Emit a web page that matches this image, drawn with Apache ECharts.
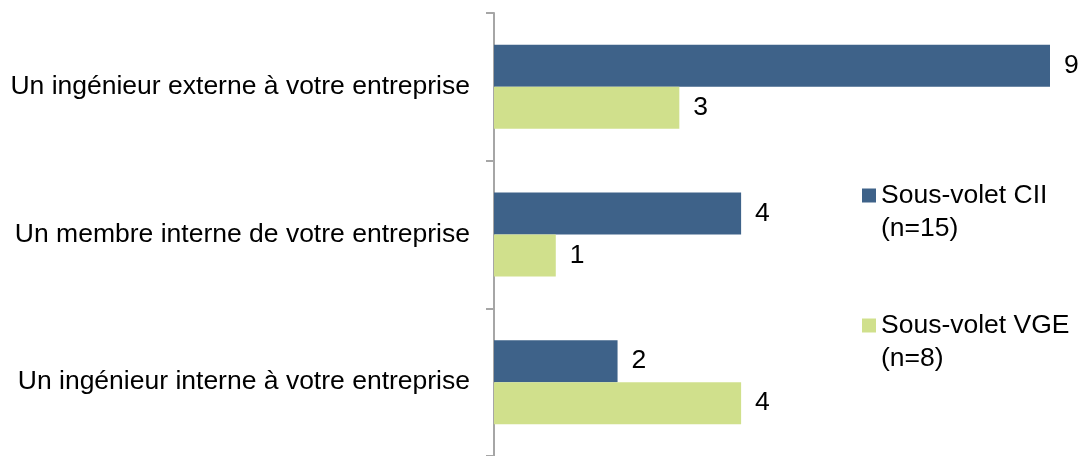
<!DOCTYPE html>
<html>
<head>
<meta charset="utf-8">
<script src="https://cdn.jsdelivr.net/npm/echarts@6/dist/echarts.min.js"></script>
<style>html,body{margin:0;padding:0;background:#fff}#c{width:1081px;height:456px}</style>
</head>
<body>
<div id="c"></div>
<script>
const categories = [
  "Un ingénieur externe à votre entreprise",
  "Un membre interne de votre entreprise",
  "Un ingénieur interne à votre entreprise"
];
const seriesNames = ["Sous-volet CII (n=15)", "Sous-volet VGE (n=8)"];
const cii = [9, 4, 2];
const vge = [3, 1, 4];

const chart = echarts.init(document.getElementById('c'));
const font = "'Liberation Sans', Arial, sans-serif";
chart.setOption({
  animation: false,
  grid: { left: 494, right: 31, top: 13, bottom: -3, containLabel: false },
  xAxis: { type: 'value', min: 0, max: 9, show: false },
  yAxis: {
    type: 'category', data: categories, inverse: true,
    axisLine: { show: true, lineStyle: { color: '#A6A6A6', width: 2 } },
    axisTick: { show: true, length: 8, inside: false, lineStyle: { color: '#A6A6A6', width: 2 } },
    axisLabel: { fontFamily: font, fontSize: 26.5, color: '#000', margin: 24 }
  },
  legend: {
    orient: 'vertical', left: 857, top: 141,
    itemWidth: 14, itemHeight: 14, itemGap: 31,
    icon: 'rect',
    formatter: function (n) { return '\n' + n.replace(' (', '\n('); },
    textStyle: { fontFamily: font, fontSize: 26.5, color: '#000', lineHeight: 33 },
    data: seriesNames
  },
  series: [
    {
      name: seriesNames[0], type: 'bar', data: cii, barWidth: 42, barGap: '0%',
      itemStyle: { color: '#3E6289' },
      label: { show: true, position: 'right', distance: 14, fontFamily: font, fontSize: 26.5, color: '#000' }
    },
    {
      name: seriesNames[1], type: 'bar', data: vge, barWidth: 42, barGap: '0%',
      itemStyle: { color: '#D0E08C' },
      label: { show: true, position: 'right', distance: 14, fontFamily: font, fontSize: 26.5, color: '#000' }
    }
  ]
});
</script>
</body>
</html>
